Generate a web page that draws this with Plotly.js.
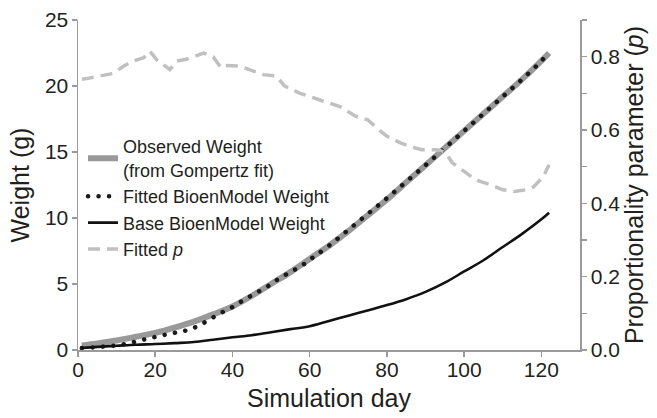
<!DOCTYPE html>
<html>
<head>
<meta charset="utf-8">
<script src="https://cdn.plot.ly/plotly-3.0.1.min.js"></script>
<style>
  html, body { margin: 0; padding: 0; background: #fff; }
  #chart { width: 657px; height: 418px; }
  .scatterlayer .trace.dotted-fit path.js-line,
  .legend .traces.dotted-fit path.js-line { stroke-linecap: round; }
</style>
</head>
<body>
<div id="chart"></div>
<script>
// Observed weight (Gompertz fit)
const obsDays = [1,5,10,15,20,25,30,35,40,45,50,55,60,65,70,75,80,85,90,95,100,105,110,115,120,122];
const obsWeight = [0.35,0.5,0.72,1.0,1.3,1.7,2.15,2.7,3.3,4.1,5.0,5.9,6.9,7.9,9.0,10.2,11.4,12.7,14.0,15.3,16.6,17.9,19.2,20.5,21.9,22.5];

// Fitted BioenModel weight
const fitDays = [1,4,7,10,13,16,19,22,25,28,31,34,37,40,43,46,49,52,55,58,61,65,70,75,80,85,90,95,100,105,110,115,120,122];
const fitWeight = [0.15,0.2,0.27,0.36,0.5,0.72,0.92,1.12,1.3,1.48,1.8,2.3,2.8,3.25,3.8,4.3,4.8,5.4,5.9,6.4,7.05,7.9,9.1,10.3,11.5,12.75,14.0,15.3,16.6,17.9,19.2,20.5,21.9,22.6];

// Base BioenModel weight
const baseDays = [1,5,10,15,20,25,30,35,40,45,50,55,60,65,70,75,80,85,90,95,100,105,110,115,120,122];
const baseWeight = [0.15,0.24,0.32,0.4,0.45,0.52,0.6,0.78,0.96,1.12,1.35,1.58,1.8,2.2,2.6,3.0,3.4,3.85,4.4,5.1,5.95,6.8,7.8,8.8,9.9,10.4];

// Fitted proportionality parameter p
const pDays = [1,5,9,12,14,17,18.6,20.5,22,23.8,25.6,28,30,32.5,35,37,38,42,44,48,51.4,53.5,57.5,61,65,68,72,75,78,80,83.5,86,89,93,95,97,100,103,107,110,113,116,118,120.5,122];
const pValues = [0.738,0.745,0.754,0.775,0.787,0.797,0.815,0.79,0.779,0.765,0.788,0.793,0.80,0.81,0.80,0.77,0.776,0.774,0.766,0.751,0.747,0.72,0.70,0.687,0.672,0.663,0.637,0.628,0.60,0.583,0.565,0.555,0.546,0.546,0.54,0.51,0.487,0.464,0.45,0.437,0.432,0.437,0.445,0.473,0.505];

const xTickVals = [0,20,40,60,80,100,120];
const yTickVals = [0,5,10,15,20,25];
const pTickVals = [0,0.2,0.4,0.6,0.8];

const FONT = 'Liberation Sans, Arial, Helvetica, sans-serif';
const TXT = '#231f20';
const AX = '#9a9a9a';

const traces = [
  {x: obsDays, y: obsWeight, type: 'scatter', mode: 'lines', name: 'Observed Weight<br>(from Gompertz fit)',
   line: {color: '#999999', width: 6, shape: 'spline'}, yaxis: 'y'},
  {x: fitDays, y: fitWeight, type: 'scatter', mode: 'lines', name: 'Fitted BioenModel Weight',
   line: {color: '#1a1a1a', width: 4.5, dash: '0.1px,10.4px', shape: 'spline'}, yaxis: 'y'},
  {x: baseDays, y: baseWeight, type: 'scatter', mode: 'lines', name: 'Base BioenModel Weight',
   line: {color: '#111111', width: 2.6, shape: 'spline'}, yaxis: 'y'},
  {x: pDays, y: pValues, type: 'scatter', mode: 'lines', name: 'Fitted <i>p</i>',
   line: {color: '#c0c0c0', width: 3.5, dash: '12px,7px'}, yaxis: 'y2'}
];

const layout = {
  width: 657, height: 418,
  margin: {l: 78, r: 77, t: 20, b: 68},
  paper_bgcolor: '#fff', plot_bgcolor: '#fff',
  font: {family: FONT, color: TXT, size: 21},
  showlegend: true,
  legend: {x: 0.01, y: 0.672, xanchor: 'left', yanchor: 'top', bgcolor: 'rgba(0,0,0,0)',
           font: {size: 18, color: TXT, family: FONT}, tracegroupgap: 0, itemwidth: 30},
  xaxis: {range: [0, 130], tickvals: xTickVals, ticks: 'outside', ticklen: 5, tickcolor: AX, tickwidth: 1.5,
          showline: true, linecolor: AX, linewidth: 1.5, showgrid: false, zeroline: false,
          tickfont: {size: 21, color: TXT}, ticklabelstandoff: -5,
          title: {text: 'Simulation day', font: {size: 25, color: TXT}, standoff: 10}},
  yaxis: {range: [0, 25], tickvals: yTickVals, ticks: 'outside', ticklen: 5, tickcolor: AX, tickwidth: 1.5,
          showline: true, linecolor: AX, linewidth: 1.5, showgrid: false, zeroline: false,
          tickfont: {size: 21, color: TXT}, ticklabelstandoff: -1,
          title: {text: 'Weight (g)', font: {size: 25, color: TXT}, standoff: 8}},
  yaxis2: {range: [0, 0.9], overlaying: 'y', side: 'right', tickvals: pTickVals, tickformat: '.1f',
           ticks: 'outside', ticklen: 5, tickcolor: AX, tickwidth: 1.5,
           minor: {dtick: 0.1, tick0: 0, ticks: 'outside', ticklen: 5, tickcolor: AX, tickwidth: 1.5},
           showline: true, linecolor: AX, linewidth: 1.5, showgrid: false, zeroline: false,
           tickfont: {size: 21, color: TXT},
           title: {text: 'Proportionality parameter (<i>p</i>)', font: {size: 25, color: TXT}, standoff: 4}}
};

Plotly.newPlot('chart', traces, layout, {displayModeBar: false, staticPlot: true}).then(function(gd) {
  const tr = gd.querySelectorAll('.cartesianlayer .subplot.xy .scatterlayer .trace');
  if (tr[1]) tr[1].classList.add('dotted-fit');
  const lt = gd.querySelectorAll('.legend .traces');
  if (lt[1]) lt[1].classList.add('dotted-fit');
});
</script>
</body>
</html>
